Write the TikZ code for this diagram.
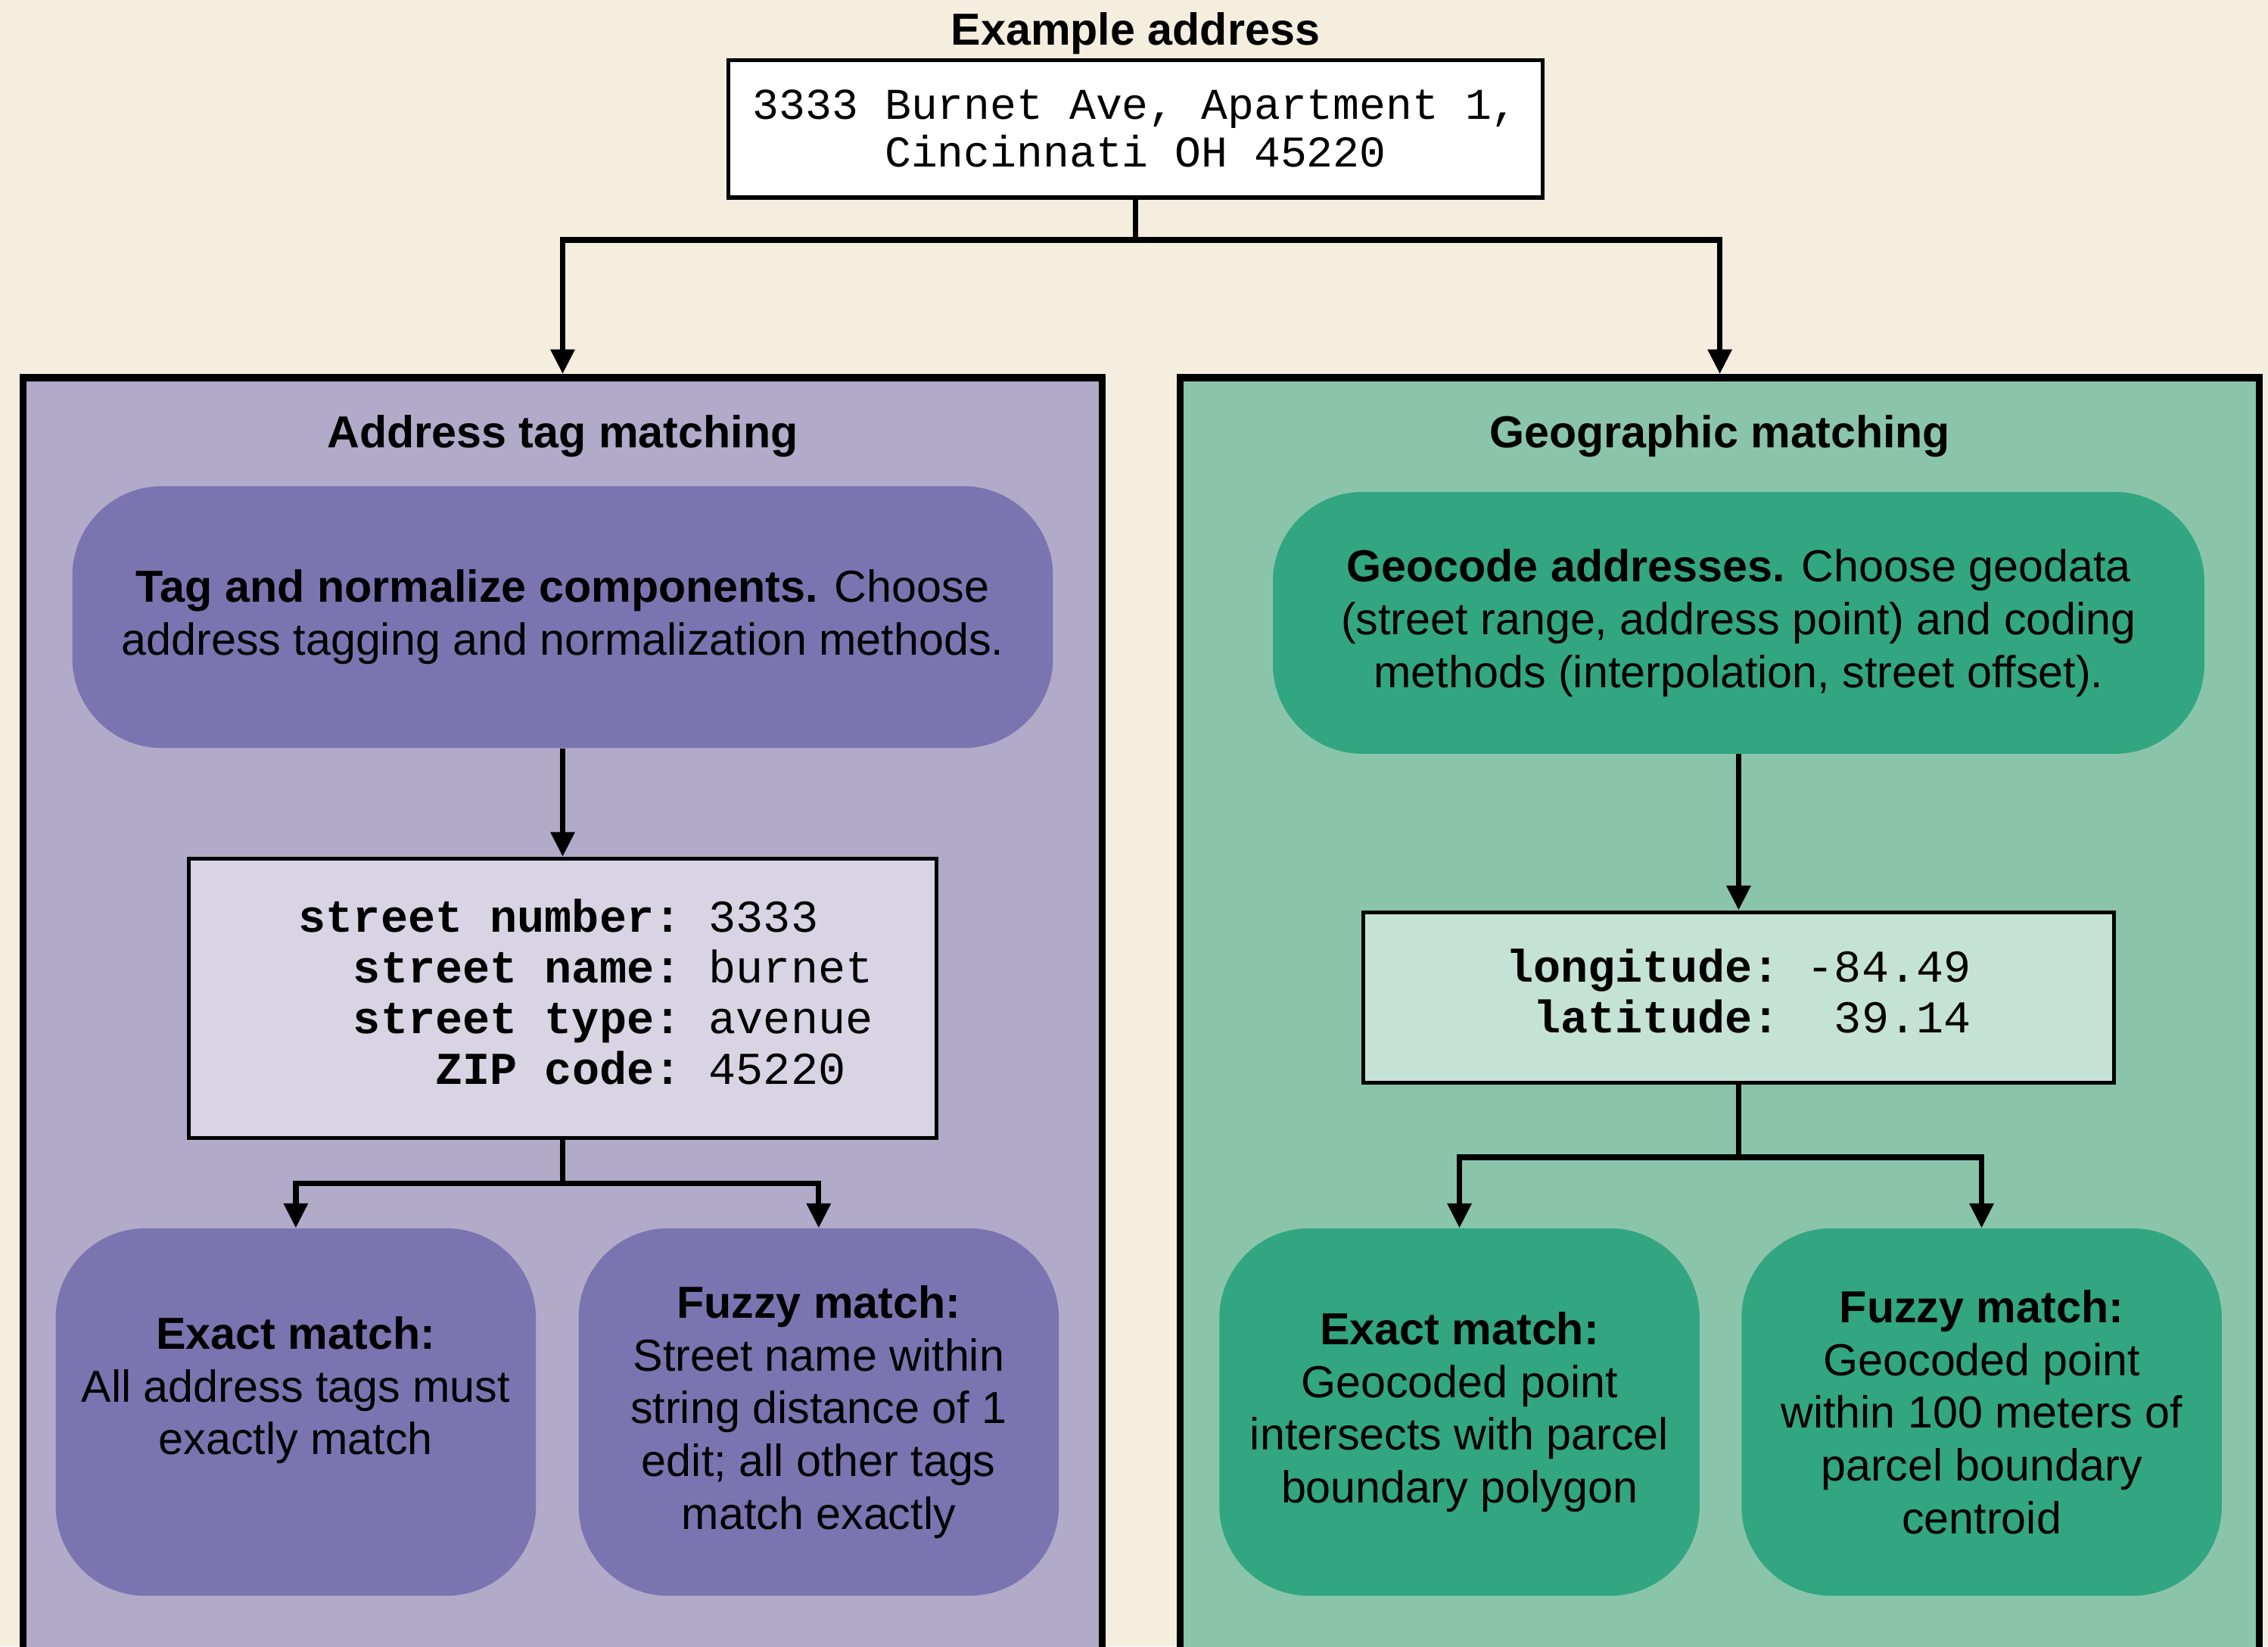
\documentclass[tikz,border=0pt]{standalone}
\usepackage{fontspec}
\setmainfont{Liberation Sans}
\setmonofont{Liberation Mono}
\usetikzlibrary{arrows.meta,positioning}

\definecolor{bgcream}{HTML}{F5EDDE}
\definecolor{lavpanel}{HTML}{B2AAC9}
\definecolor{lavblob}{HTML}{7A75B0}
\definecolor{lavbox}{HTML}{D8D4E4}
\definecolor{greenpanel}{HTML}{8AC5AB}
\definecolor{greenblob}{HTML}{32A680}
\definecolor{greenbox}{HTML}{C5E2D6}

\begin{document}
\begin{tikzpicture}[x=1pt,y=-1pt,on grid,
    >={Triangle[length=17pt,width=16pt]},
    font=\fontsize{31}{36.5}\selectfont,
    link/.style={->,line width=3.8pt},
    title/.style={font=\bfseries\fontsize{31}{36.5}\selectfont},
    panel/.style={draw,line width=5pt,fill=#1,inner sep=0pt,
        minimum width=746pt,minimum height=899pt},
    blob/.style={fill=#1,rounded corners=62pt,inner sep=0pt,align=center,
        minimum width=332pt,minimum height=254pt},
    codebox/.style={draw,line width=2.8pt,fill=#1,inner sep=0pt,align=center,
        font=\ttfamily\fontsize{31.5}{35}\selectfont}]
    \useasboundingbox (0,0) rectangle (1568,1138);
    \fill[bgcream] (0,0) rectangle (1568,1138);
    \clip (0,0) rectangle (1568,1138);

    % example address
    \node[codebox=white,minimum width=563pt,minimum height=95pt,
          font=\ttfamily\fontsize{30.4}{33}\selectfont] (addr) at (785,89)
        {3333 Burnet Ave, Apartment 1,\\Cincinnati OH 45220};
    \node[title] (addr_title) [above=66pt of addr] {Example address};

    % the two panels
    \node[panel=lavpanel]   (atm) at (389,710.5)  {};
    \node[panel=greenpanel] (geo) at (1189,710.5) {};
    \node[title] (atm_title) [below=25pt of atm.north] {Address tag matching};
    \node[title] (geo_title) [below=25pt of geo.north] {Geographic matching};

    % address tag matching
    \node[blob=lavblob,minimum width=678pt,minimum height=181pt] (tag)
        [below=125pt of atm_title]
        {\textbf{Tag and normalize components.} Choose\\address tagging and normalization methods.};
    \node[codebox=lavbox,minimum width=517pt,minimum height=193pt] (tags)
        [below=263.5pt of tag]
        {\hspace*{32pt}\begin{tabular}{@{}r@{\ }l@{}}
            \textbf{street number:} & 3333\\
            \textbf{street name:}   & burnet\\
            \textbf{street type:}   & avenue\\
            \textbf{ZIP code:}      & 45220
        \end{tabular}};
    \node[blob=lavblob] (exact_a) [below left=286pt and 184.5pt of tags]
        {\textbf{Exact match:}\\All address tags must\\exactly match\\~};
    \node[blob=lavblob] (fuzzy_a) [below right=286pt and 177pt of tags]
        {\textbf{Fuzzy match:}\\Street name within\\string distance of 1\\edit; all other tags\\match exactly};

    % geographic matching
    \node[blob=greenblob,minimum width=644pt,minimum height=181pt] (geocode)
        [below right=129pt and 13pt of geo_title]
        {\textbf{Geocode addresses.} Choose geodata\\(street range, address point) and coding\\methods (interpolation, street offset).};
    \node[codebox=greenbox,minimum width=519pt,minimum height=118pt] (coords)
        [below=259pt of geocode]
        {\begin{tabular}{@{}r@{\ }r@{}}
            \textbf{longitude:} & -84.49\\
            \textbf{latitude:}  & 39.14
        \end{tabular}};
    \node[blob=greenblob] (exact_b) [below left=286.5pt and 193pt of coords]
        {\textbf{Exact match:}\\Geocoded point\\intersects with parcel\\boundary polygon};
    \node[blob=greenblob] (fuzzy_b) [below right=286.5pt and 168pt of coords]
        {\textbf{Fuzzy match:}\\Geocoded point\\within 100 meters of\\parcel boundary\\centroid};

    \draw[link] (addr.south) -- ++(0,28) -| (atm.north);
    \draw[link] (addr.south) -- ++(0,28) -| (geo.north);
    \draw[link] (tag) -- (tags);
    \draw[link] (tags.south) -- ++(0,30) -| (exact_a.north);
    \draw[link] (tags.south) -- ++(0,30) -| (fuzzy_a.north);
    \draw[link] (geocode) -- (coords);
    \draw[link] (coords.south) -- ++(0,50) -| (exact_b.north);
    \draw[link] (coords.south) -- ++(0,50) -| (fuzzy_b.north);
\end{tikzpicture}
\end{document}
